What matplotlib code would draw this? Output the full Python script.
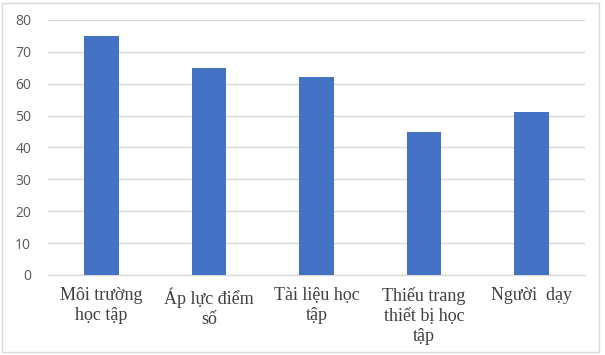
import matplotlib.pyplot as plt
from matplotlib.patches import Rectangle

categories = [
    "Môi trường\nhọc tập",
    "Áp lực điểm\nsố",
    "Tài liệu học\ntập",
    "Thiếu trang\nthiết bị học\ntập",
    "Người  dạy",
]
values = [75, 65, 62, 45, 51]
y_ticks = [0, 10, 20, 30, 40, 50, 60, 70, 80]

fig = plt.figure(figsize=(6.05, 3.55), dpi=100)
ax = fig.add_axes([0.079, 0.2254, 0.888, 0.7183])

x = list(range(len(categories)))
ax.bar(x, values, width=0.32, color="#4472c4", zorder=3)

ax.set_ylim(0, 80)
ax.set_xlim(-0.5, len(categories) - 0.5)
ax.set_yticks(y_ticks)
ax.set_yticklabels([str(t) for t in y_ticks], fontfamily="Open Sans",
                   fontsize=10, color="#595959")
ax.set_xticks(x)
ax.set_xticklabels(categories, fontfamily="Liberation Serif", fontsize=13,
                   color="#404040", linespacing=1.2)
ax.tick_params(axis="both", length=0)
ax.tick_params(axis="x", pad=9)
ax.tick_params(axis="y", pad=12)

ax.grid(axis="y", color="#d9d9d9", linewidth=1, zorder=0)
for s in ["top", "right", "left"]:
    ax.spines[s].set_visible(False)
ax.spines["bottom"].set_color("#d9d9d9")
ax.spines["bottom"].set_linewidth(1)

# outer frame of the chart
fig.patches.append(Rectangle((2 / 605, 3 / 355), 597 / 605, 349 / 355,
                             transform=fig.transFigure, fill=False,
                             edgecolor="#d9d9d9", linewidth=1))

fig.savefig("out.png", dpi=100)
